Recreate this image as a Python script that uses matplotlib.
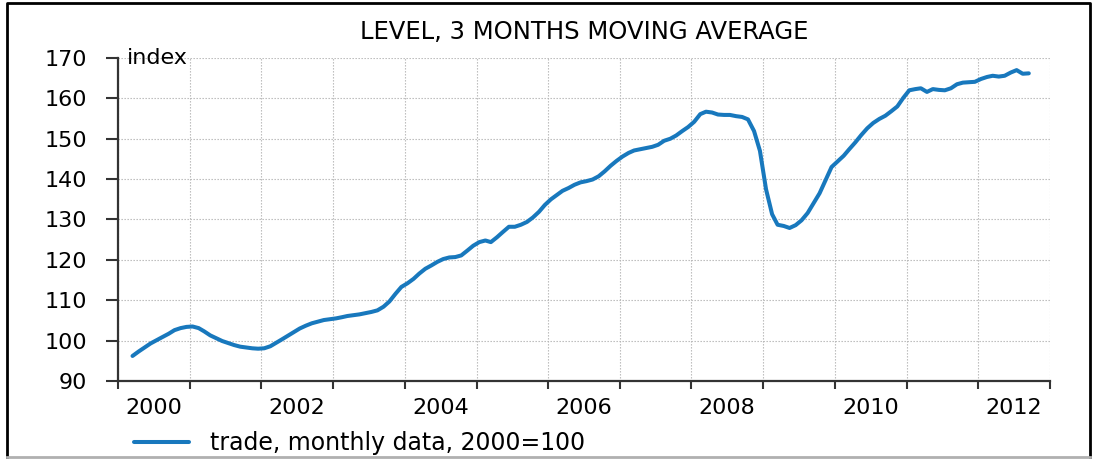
import matplotlib
matplotlib.use("Agg")
import matplotlib.pyplot as plt
import matplotlib.dates as mdates
from matplotlib.lines import Line2D
import pandas as pd

# monthly trade index, 3 month moving average (Mar 2000 - Sep 2012), 2000=100
start_month = "2000-03"
trade = [
    96.2, 97.3, 98.3, 99.3, 100.1, 100.9, 101.7, 102.6, 103.1, 103.4,          # 2000
    103.5, 103.1, 102.3, 101.3, 100.6, 99.9, 99.4, 98.9, 98.5, 98.3, 98.1, 98.0,  # 2001
    98.1, 98.6, 99.4, 100.3, 101.2, 102.1, 103.0, 103.7, 104.3, 104.7, 105.1, 105.3,  # 2002
    105.5, 105.8, 106.1, 106.3, 106.5, 106.8, 107.1, 107.5, 108.4, 109.7, 111.6, 113.3,  # 2003
    114.2, 115.3, 116.6, 117.8, 118.6, 119.5, 120.2, 120.6, 120.7, 121.1, 122.3, 123.5,  # 2004
    124.4, 124.8, 124.4, 125.6, 126.9, 128.2, 128.2, 128.7, 129.4, 130.5, 131.9, 133.6,  # 2005
    135.0, 136.1, 137.1, 137.8, 138.6, 139.2, 139.5, 139.9, 140.7, 141.9, 143.3, 144.5,  # 2006
    145.6, 146.5, 147.1, 147.4, 147.7, 148.0, 148.5, 149.5, 150.0, 150.8, 151.9, 152.9,  # 2007
    154.2, 156.1, 156.7, 156.5, 156.0, 155.9, 155.9, 155.6, 155.4, 154.8, 151.9, 147.0,  # 2008
    137.5, 131.3, 128.7, 128.4, 127.9, 128.6, 129.8, 131.6, 134.1, 136.5, 139.8, 143.0,  # 2009
    144.4, 145.8, 147.4, 149.1, 150.9, 152.6, 153.9, 154.9, 155.7, 156.8, 158.0, 160.1,  # 2010
    162.0, 162.3, 162.5, 161.6, 162.3, 162.1, 162.0, 162.5, 163.5, 163.9, 164.0, 164.1,  # 2011
    164.8, 165.3, 165.6, 165.4, 165.6, 166.4, 167.0, 166.1, 166.2,                     # 2012
]
y_ticks = [90, 100, 110, 120, 130, 140, 150, 160, 170]
year_labels = ["2000", "2002", "2004", "2006", "2008", "2010", "2012"]

dates = pd.date_range(start_month, periods=len(trade), freq="MS") + pd.Timedelta(days=14)

plt.rcParams["font.family"] = ["DejaVu Sans"]

fig = plt.figure(figsize=(10.97, 4.59), dpi=100)
ax = fig.add_axes([118 / 1097, 1 - 381 / 459, (1050 - 118) / 1097, (381 - 58) / 459])

ax.plot(dates, trade, color="#1878bd", lw=2.9, solid_capstyle="round",
        label="trade, monthly data, 2000=100")

ax.set_xlim(pd.Timestamp("2000-01-01"), pd.Timestamp("2013-01-01"))
ax.set_ylim(90, 170)
ax.set_yticks(y_ticks)

# year ticks at Jan 1, labels centred on the even years
ax.xaxis.set_major_locator(mdates.YearLocator(1))
ax.xaxis.set_major_formatter(plt.NullFormatter())
ax.set_xticks([pd.Timestamp(f"{y}-07-01") for y in year_labels], minor=True)
ax.set_xticklabels(year_labels, minor=True)
ax.tick_params(axis="x", which="minor", length=0, pad=12, labelsize=16)
ax.tick_params(axis="x", which="major", length=6, width=1.5, color="#333333")
ax.tick_params(axis="y", length=9, width=1.5, color="#333333", pad=13, labelsize=16)

ax.grid(True, which="major", color="#b4b4b4", linestyle=(0, (1.2, 1.5)), linewidth=0.8)

for side in ["top", "right"]:
    ax.spines[side].set_visible(False)
for side in ["left", "bottom"]:
    ax.spines[side].set_color("#333333")
    ax.spines[side].set_linewidth(1.6)

ax.text(0.01, 1.0, "index", transform=ax.transAxes, fontsize=16,
        ha="left", va="center")
ax.set_title("LEVEL, 3 MONTHS MOVING AVERAGE", fontsize=17.5, pad=14)

ax.legend(loc="upper left", bbox_to_anchor=(125 / 1097, 1 - 422 / 459),
          bbox_transform=fig.transFigure, frameon=False, fontsize=17,
          handlelength=2.3, handletextpad=0.9, borderaxespad=0)

# outer frame: dark on top / left / right, light at the bottom
x0, x1, y0, y1 = 7 / 1097, 1090 / 1097, 2 / 459, 1 - 3 / 459
for xs, ys, col in [([x0, x0, x1, x1], [y0, y1, y1, y0], "black"),
                    ([x0, x1], [y0, y0], "#b0b0b0")]:
    fig.add_artist(Line2D(xs, ys, transform=fig.transFigure, color=col, lw=2))

fig.savefig("out.png", dpi=100)
